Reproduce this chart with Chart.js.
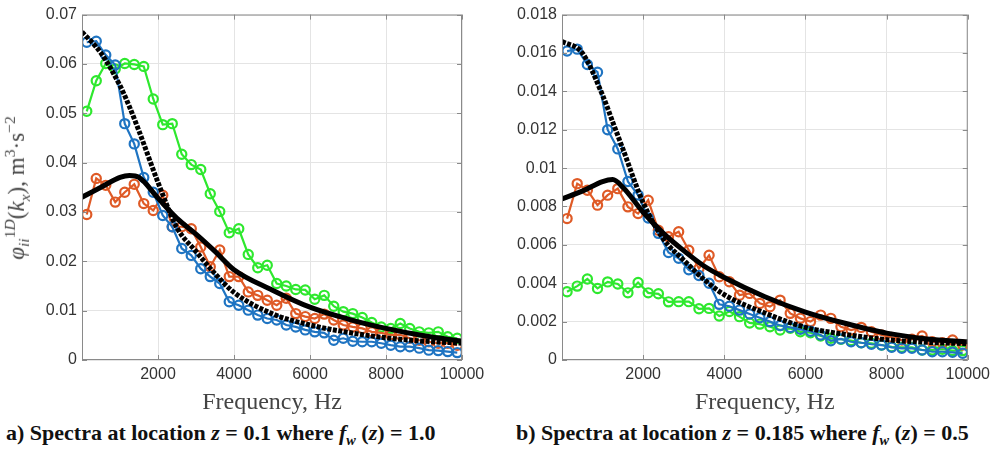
<!DOCTYPE html>
<html>
<head>
<meta charset="utf-8">
<title>Spectra</title>
<script src="https://cdn.jsdelivr.net/npm/chart.js@4.4.1/dist/chart.umd.min.js"></script>
<style>
  html, body { margin: 0; padding: 0; background: #fff; }
  body { width: 995px; height: 452px; position: relative; overflow: hidden; }
  .panel { position: absolute; top: 0; }
  #leftPanel { left: 0; width: 495px; height: 420px; }
  #rightPanel { left: 495px; width: 500px; height: 420px; }
  .ytitle {
    position: absolute; left: 17px; top: 188px;
    transform: translate(-50%, -50%) rotate(-90deg);
    white-space: nowrap; color: #444;
    font: 23px "Liberation Serif", "DejaVu Serif", serif;
  }
  .ytitle sub, .ytitle sup { font-size: 68%; }
  .caption {
    position: absolute; top: 420px; white-space: nowrap; color: #111;
    font: bold 22px "Liberation Serif", serif;
  }
</style>
</head>
<body>
<div class="panel" id="leftPanel"><canvas id="leftChart" width="495" height="420"></canvas></div>
<div class="panel" id="rightPanel"><canvas id="rightChart" width="500" height="420"></canvas></div>
<div class="ytitle"><i>φ</i><sub><i>ii</i></sub><sup>1<i>D</i></sup>(<i>k<sub>x</sub></i>), m<sup>3</sup>·s<sup>−2</sup></div>
<div class="caption" style="left:6px">a) Spectra at location <i>z</i> = 0.1 where <i>f<sub style="font-size:65%">w</sub></i> (<i>z</i>) = 1.0</div>
<div class="caption" style="left:516px">b) Spectra at location <i>z</i> = 0.185 where <i>f<sub style="font-size:65%">w</sub></i> (<i>z</i>) = 0.5</div>
<script>
"use strict";

// measured frequencies (Hz), shared by every measured series
const FREQ = [125, 375, 625, 875, 1125, 1375, 1625, 1875, 2125, 2375,
  2625, 2875, 3125, 3375, 3625, 3875, 4125, 4375, 4625, 4875,
  5125, 5375, 5625, 5875, 6125, 6375, 6625, 6875, 7125, 7375,
  7625, 7875, 8125, 8375, 8625, 8875, 9125, 9375, 9625, 9875];

// frequencies at which the model curves were read
const CURVE_FREQ = [0, 500, 1000, 1250, 1500, 2000, 2500, 3000, 3500, 4000, 5000, 6000, 7000, 8000, 9000, 10000];

// panel a) z = 0.1
const A_BLUE = [0.0644, 0.0646, 0.0618, 0.0598, 0.0479, 0.0438, 0.0370, 0.0340, 0.0293, 0.0270,
  0.0226, 0.0212, 0.0185, 0.0169, 0.0155, 0.0118, 0.0111, 0.0101, 0.0091, 0.0084,
  0.0081, 0.0071, 0.0067, 0.0061, 0.0057, 0.0055, 0.0040, 0.0044, 0.0038, 0.0037,
  0.0037, 0.0034, 0.0030, 0.0027, 0.0027, 0.0024, 0.0020, 0.0019, 0.0017, 0.0015];
const A_ORANGE = [0.0295, 0.0368, 0.0354, 0.0320, 0.0340, 0.0356, 0.0317, 0.0303, 0.0334, 0.0270,
  0.0270, 0.0266, 0.0229, 0.0189, 0.0223, 0.0169, 0.0169, 0.0138, 0.0131, 0.0121,
  0.0111, 0.0125, 0.0094, 0.0088, 0.0084, 0.0093, 0.0081, 0.0071, 0.0067, 0.0064,
  0.0057, 0.0055, 0.0051, 0.0051, 0.0044, 0.0040, 0.0037, 0.0034, 0.0034, 0.0030];
const A_GREEN = [0.0504, 0.0566, 0.0601, 0.0590, 0.0601, 0.0599, 0.0595, 0.0529, 0.0477, 0.0479,
  0.0417, 0.0396, 0.0386, 0.0337, 0.0301, 0.0258, 0.0266, 0.0214, 0.0187, 0.0192,
  0.0155, 0.0150, 0.0143, 0.0142, 0.0123, 0.0131, 0.0109, 0.0098, 0.0094, 0.0086,
  0.0076, 0.0067, 0.0064, 0.0074, 0.0064, 0.0057, 0.0055, 0.0057, 0.0047, 0.0044];
const A_MODEL_DOTTED = [0.0665, 0.0622, 0.0556, 0.0513, 0.0464, 0.0360, 0.0268, 0.0220, 0.0175, 0.0137,
  0.0094, 0.0071, 0.0056, 0.0045, 0.0038, 0.0034];
const A_MODEL_SOLID = [0.0330, 0.0350, 0.0370, 0.0374, 0.0370, 0.0328, 0.0287, 0.0255, 0.0220, 0.0183,
  0.0142, 0.0107, 0.0083, 0.0064, 0.0049, 0.0038];

// panel b) z = 0.185
const B_BLUE = [0.0161, 0.0162, 0.0154, 0.0150, 0.0120, 0.0110, 0.0093, 0.0086, 0.0074, 0.0066,
  0.0056, 0.0053, 0.0047, 0.0044, 0.0040, 0.0029, 0.0028, 0.0026, 0.0024, 0.0022,
  0.0020, 0.0018, 0.0017, 0.0016, 0.0015, 0.0013, 0.0010, 0.0011, 0.00095, 0.0009,
  0.00082, 0.00078, 0.00066, 0.00061, 0.00061, 0.00052, 0.00043, 0.00043, 0.0004, 0.00035];
const B_ORANGE = [0.00737, 0.00919, 0.00885, 0.00807, 0.00859, 0.00893, 0.00798, 0.00763, 0.00833, 0.00676,
  0.00642, 0.00668, 0.00572, 0.00477, 0.00546, 0.00434, 0.00408, 0.00338, 0.00347, 0.00295,
  0.00278, 0.00312, 0.00243, 0.00217, 0.0020, 0.00234, 0.00217, 0.00173, 0.00156, 0.0017,
  0.00147, 0.0013, 0.00118, 0.00104, 0.00108, 0.00125, 0.00095, 0.0009, 0.00104, 0.00078];
const B_GREEN = [0.00356, 0.00385, 0.00422, 0.00373, 0.00407, 0.00396, 0.0035, 0.00404, 0.0035, 0.00345,
  0.00303, 0.00304, 0.00304, 0.00267, 0.00269, 0.00229, 0.00253, 0.00226, 0.00193, 0.00187,
  0.00173, 0.00156, 0.00165, 0.00147, 0.00142, 0.00125, 0.00113, 0.00108, 0.00101, 0.0009,
  0.00087, 0.00078, 0.00069, 0.00066, 0.00066, 0.00052, 0.00052, 0.00056, 0.00049, 0.00049];
const B_MODEL_DOTTED = [0.0166, 0.0160, 0.0138, 0.0124, 0.0110, 0.0082, 0.0063, 0.0052, 0.0042, 0.0034,
  0.00245, 0.0017, 0.00133, 0.00106, 0.00092, 0.00085];
const B_MODEL_SOLID = [0.0084, 0.0088, 0.0093, 0.0094, 0.0090, 0.0077, 0.0066, 0.0057, 0.0049, 0.0043,
  0.0033, 0.0025, 0.0019, 0.0014, 0.0011, 0.00095];

const X_TICKS = [2000, 4000, 6000, 8000, 10000];

(() => {
  const COLORS = { blue: "#1f74c2", orange: "#df5a26", green: "#2ee82e", black: "#000" };
  const TICK_FONT = { family: "'Liberation Sans', Arial, sans-serif", size: 16 };

  const toPoints = (xs, ys) => xs.map((x, i) => ({ x, y: ys[i] }));

  function measured(values, color) {
    return {
      data: toPoints(FREQ, values),
      borderColor: color,
      borderWidth: 2.2,
      pointRadius: 4.6,
      pointBorderWidth: 2.2,
      pointBorderColor: color,
      pointBackgroundColor: "rgba(0,0,0,0)",
      tension: 0,
    };
  }

  function curve(values, dashed) {
    return {
      data: toPoints(CURVE_FREQ, values),
      borderColor: COLORS.black,
      borderWidth: dashed ? 5 : 5,
      borderDash: dashed ? [4, 1.5] : [],
      pointRadius: 0,
      cubicInterpolationMode: "monotone",
    };
  }

  // MATLAB style box with inward ticks on all four sides
  const frameBox = {
    id: "frameBox",
    afterDraw(chart) {
      const { ctx, chartArea: a, scales } = chart;
      ctx.save();
      ctx.strokeStyle = "#8a8a8a";
      ctx.lineWidth = 1;
      ctx.strokeRect(a.left + 0.5, a.top + 0.5, a.width - 1, a.height - 1);
      ctx.beginPath();
      scales.y.ticks.forEach((t) => {
        const y = Math.round(scales.y.getPixelForValue(t.value)) + 0.5;
        ctx.moveTo(a.left, y); ctx.lineTo(a.left + 5, y);
        ctx.moveTo(a.right, y); ctx.lineTo(a.right - 5, y);
      });
      scales.x.ticks.forEach((t) => {
        const x = Math.round(scales.x.getPixelForValue(t.value)) + 0.5;
        ctx.moveTo(x, a.top); ctx.lineTo(x, a.top + 5);
        ctx.moveTo(x, a.bottom); ctx.lineTo(x, a.bottom - 5);
      });
      ctx.stroke();
      ctx.restore();
    },
  };

  function makeChart(canvasId, series, yMax, yStep, yAxisWidth, rightPad) {
    const ctx = document.getElementById(canvasId).getContext("2d");
    return new Chart(ctx, {
      type: "line",
      data: {
        // dataset 0 is drawn last, so the model curves go first
        datasets: [
          curve(series.solid, false),
          curve(series.dotted, true),
          measured(series.blue, COLORS.blue),
          measured(series.orange, COLORS.orange),
          measured(series.green, COLORS.green),
        ],
      },
      options: {
        responsive: false,
        animation: false,
        devicePixelRatio: 1,
        layout: { padding: { top: 14, right: rightPad, left: 0, bottom: 0 } },
        plugins: { legend: { display: false }, tooltip: { enabled: false } },
        scales: {
          x: {
            type: "linear",
            min: 0,
            max: 10000,
            afterBuildTicks: (scale) => { scale.ticks = X_TICKS.map((v) => ({ value: v })); },
            afterFit: (scale) => { scale.height = 60; },
            ticks: { color: "#333", font: TICK_FONT, padding: 5, maxRotation: 0, callback: (v) => String(v) },
            grid: { color: "#e4e4e4", drawTicks: false },
            border: { display: false },
            title: {
              display: true,
              text: "Frequency, Hz",
              color: "#444",
              font: { family: "'Liberation Serif', serif", size: 24 },
              padding: { top: 0, bottom: 3 },
            },
          },
          y: {
            type: "linear",
            min: 0,
            max: yMax,
            afterFit: (scale) => { scale.width = yAxisWidth; },
            ticks: {
              stepSize: yStep,
              color: "#333",
              font: TICK_FONT,
              padding: 5,
              callback: (v) => String(Number(v.toFixed(4))),
            },
            grid: { color: "#e4e4e4", drawTicks: false },
            border: { display: false },
          },
        },
      },
      plugins: [frameBox],
    });
  }

  makeChart("leftChart", {
    blue: A_BLUE, orange: A_ORANGE, green: A_GREEN, dotted: A_MODEL_DOTTED, solid: A_MODEL_SOLID,
  }, 0.07, 0.01, 82, 33);

  makeChart("rightChart", {
    blue: B_BLUE, orange: B_ORANGE, green: B_GREEN, dotted: B_MODEL_DOTTED, solid: B_MODEL_SOLID,
  }, 0.018, 0.002, 67, 26);
})();
</script>
</body>
</html>
